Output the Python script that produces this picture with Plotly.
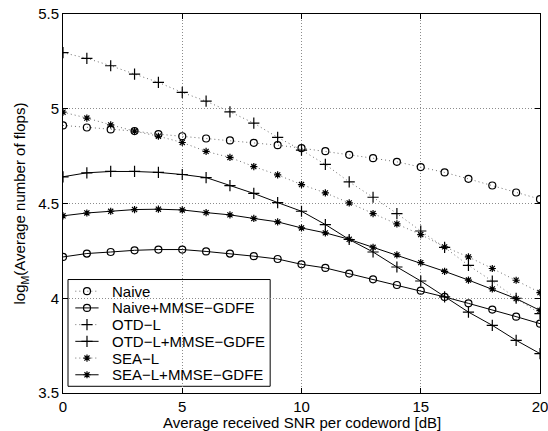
import plotly.graph_objects as go

snr = list(range(0, 21))

naive = [4.912, 4.901, 4.891, 4.882, 4.866, 4.855, 4.843, 4.833, 4.820, 4.808, 4.792,
         4.776, 4.757, 4.739, 4.720, 4.692, 4.664, 4.630, 4.595, 4.558, 4.523]
naive_mmse = [4.218, 4.236, 4.244, 4.253, 4.257, 4.257, 4.247, 4.236, 4.222, 4.207, 4.179,
              4.160, 4.130, 4.100, 4.070, 4.040, 4.007, 3.973, 3.940, 3.903, 3.866]
otd_l = [5.296, 5.266, 5.227, 5.183, 5.139, 5.086, 5.040, 4.984, 4.924, 4.849, 4.782,
         4.706, 4.614, 4.533, 4.447, 4.355, 4.268, 4.174, 4.090, 4.000, 3.919]
otd_l_mmse = [4.641, 4.662, 4.669, 4.669, 4.664, 4.653, 4.637, 4.594, 4.553, 4.505, 4.459,
              4.389, 4.310, 4.244, 4.165, 4.091, 4.007, 3.927, 3.857, 3.778, 3.708]
sea_l = [4.982, 4.951, 4.915, 4.882, 4.855, 4.822, 4.775, 4.743, 4.695, 4.651, 4.600,
         4.556, 4.503, 4.447, 4.392, 4.336, 4.271, 4.218, 4.157, 4.095, 4.030]
sea_l_mmse = [4.435, 4.450, 4.459, 4.468, 4.470, 4.466, 4.452, 4.440, 4.421, 4.403, 4.371,
              4.345, 4.311, 4.269, 4.229, 4.188, 4.142, 4.096, 4.049, 3.998, 3.936]

x_ticks = [0, 5, 10, 15, 20]
x_tick_labels = ["0", "5", "10", "15", "20"]
y_ticks = [3.5, 4, 4.5, 5, 5.5]
y_tick_labels = ["3.5", "4", "4.5", "5", "5.5"]

names = ["Naive", "Naive+MMSE\u2212GDFE", "OTD\u2212L", "OTD\u2212L+MMSE\u2212GDFE",
         "SEA\u2212L", "SEA\u2212L+MMSE\u2212GDFE"]
series = [naive, naive_mmse, otd_l, otd_l_mmse, sea_l, sea_l_mmse]
symbols = ["circle-open", "circle-open", "cross-thin-open", "cross-thin-open",
           "asterisk-open", "asterisk-open"]
sizes = [7, 7, 8, 8, 6, 6]
dashes = ["1px,3px", "solid", "1px,3px", "solid", "1px,3px", "solid"]

FAM = "Liberation Sans, Arial, Helvetica, sans-serif"
font = dict(family=FAM, size=15, color="black")
DOT_COLOR = "#707070"

fig = go.Figure()
for name, ys, sym, sz, dash in zip(names, series, symbols, sizes, dashes):
    lc = DOT_COLOR if dash != "solid" else "black"
    fig.add_trace(go.Scatter(
        x=snr, y=ys, name=name, mode="lines+markers",
        line=dict(color=lc, width=1, dash=dash),
        marker=dict(symbol=sym, size=sz, color="black",
                    line=dict(color="black", width=1.2)),
    ))

# ---- legend (MATLAB-style compact box), in plot-area fractions ----
leg_x0, leg_x1, leg_y0, leg_y1 = 0.0105, 0.4343, 0.0177, 0.2994
row_top, row_step = 0.2686, 0.0441
samp_x0, samp_xm, samp_x1, text_x = 0.0258, 0.0503, 0.0746, 0.0991

fig.add_shape(type="rect", xref="paper", yref="paper",
              x0=leg_x0, x1=leg_x1, y0=leg_y0, y1=leg_y1,
              fillcolor="white", line=dict(color="black", width=1), layer="between")

for i, (name, sym, sz, dash) in enumerate(zip(names, symbols, sizes, dashes)):
    fy = row_top - i * row_step
    lc = DOT_COLOR if dash != "solid" else "black"
    fig.add_trace(go.Scatter(
        x=[samp_x0, samp_x1], y=[fy, fy], xaxis="x2", yaxis="y2", mode="lines",
        line=dict(color=lc, width=1, dash=dash), showlegend=False, hoverinfo="skip"))
    fig.add_trace(go.Scatter(
        x=[samp_xm], y=[fy], xaxis="x2", yaxis="y2", mode="markers",
        marker=dict(symbol=sym, size=sz, color="black", line=dict(color="black", width=1.2)),
        showlegend=False, hoverinfo="skip"))
    fig.add_annotation(x=text_x, y=fy, xref="paper", yref="paper", text=name,
                       showarrow=False, xanchor="left", yanchor="middle",
                       font=dict(family=FAM, size=15, color="black"))

# x-axis title placed as annotation for exact vertical position
fig.add_annotation(x=0.5, y=-0.0778, xref="paper", yref="paper",
                   text="Average received SNR per codeword [dB]", showarrow=False,
                   xanchor="center", yanchor="middle",
                   font=dict(family=FAM, size=15, color="black"))

axis_common = dict(
    showline=True, linecolor="black", linewidth=1, mirror="ticks",
    ticks="inside", ticklen=5, tickcolor="black",
    showgrid=True, gridcolor="#8c8c8c", griddash="1px,2px", gridwidth=1,
    zeroline=False, tickfont=dict(family=FAM, size=15, color="black"),
    ticklabeloverflow="allow",
)

fig.update_layout(
    width=548, height=431,
    margin=dict(l=63, r=8, t=14, b=38, autoexpand=False),
    paper_bgcolor="white", plot_bgcolor="white",
    font=font,
    showlegend=False,
    xaxis=dict(range=[0, 20], tickvals=x_ticks, ticktext=x_tick_labels, **axis_common),
    yaxis=dict(range=[3.5, 5.5], tickvals=y_ticks, ticktext=y_tick_labels,
               title=dict(text="log<sub>M</sub>(Average number of flops)", standoff=8,
                          font=dict(family=FAM, size=15, color="black")),
               **axis_common),
    xaxis2=dict(overlaying="x", anchor="y2", range=[0, 1], visible=False),
    yaxis2=dict(overlaying="y", anchor="x2", range=[0, 1], visible=False),
)

# remove the default page margin so the 548x431 figure fills the window exactly
page_fix = ("document.body.style.margin='0';document.body.style.padding='0';"
            "document.documentElement.style.overflow='hidden';")

fig.write_html("out.html", post_script=page_fix, config={"displayModeBar": False})
